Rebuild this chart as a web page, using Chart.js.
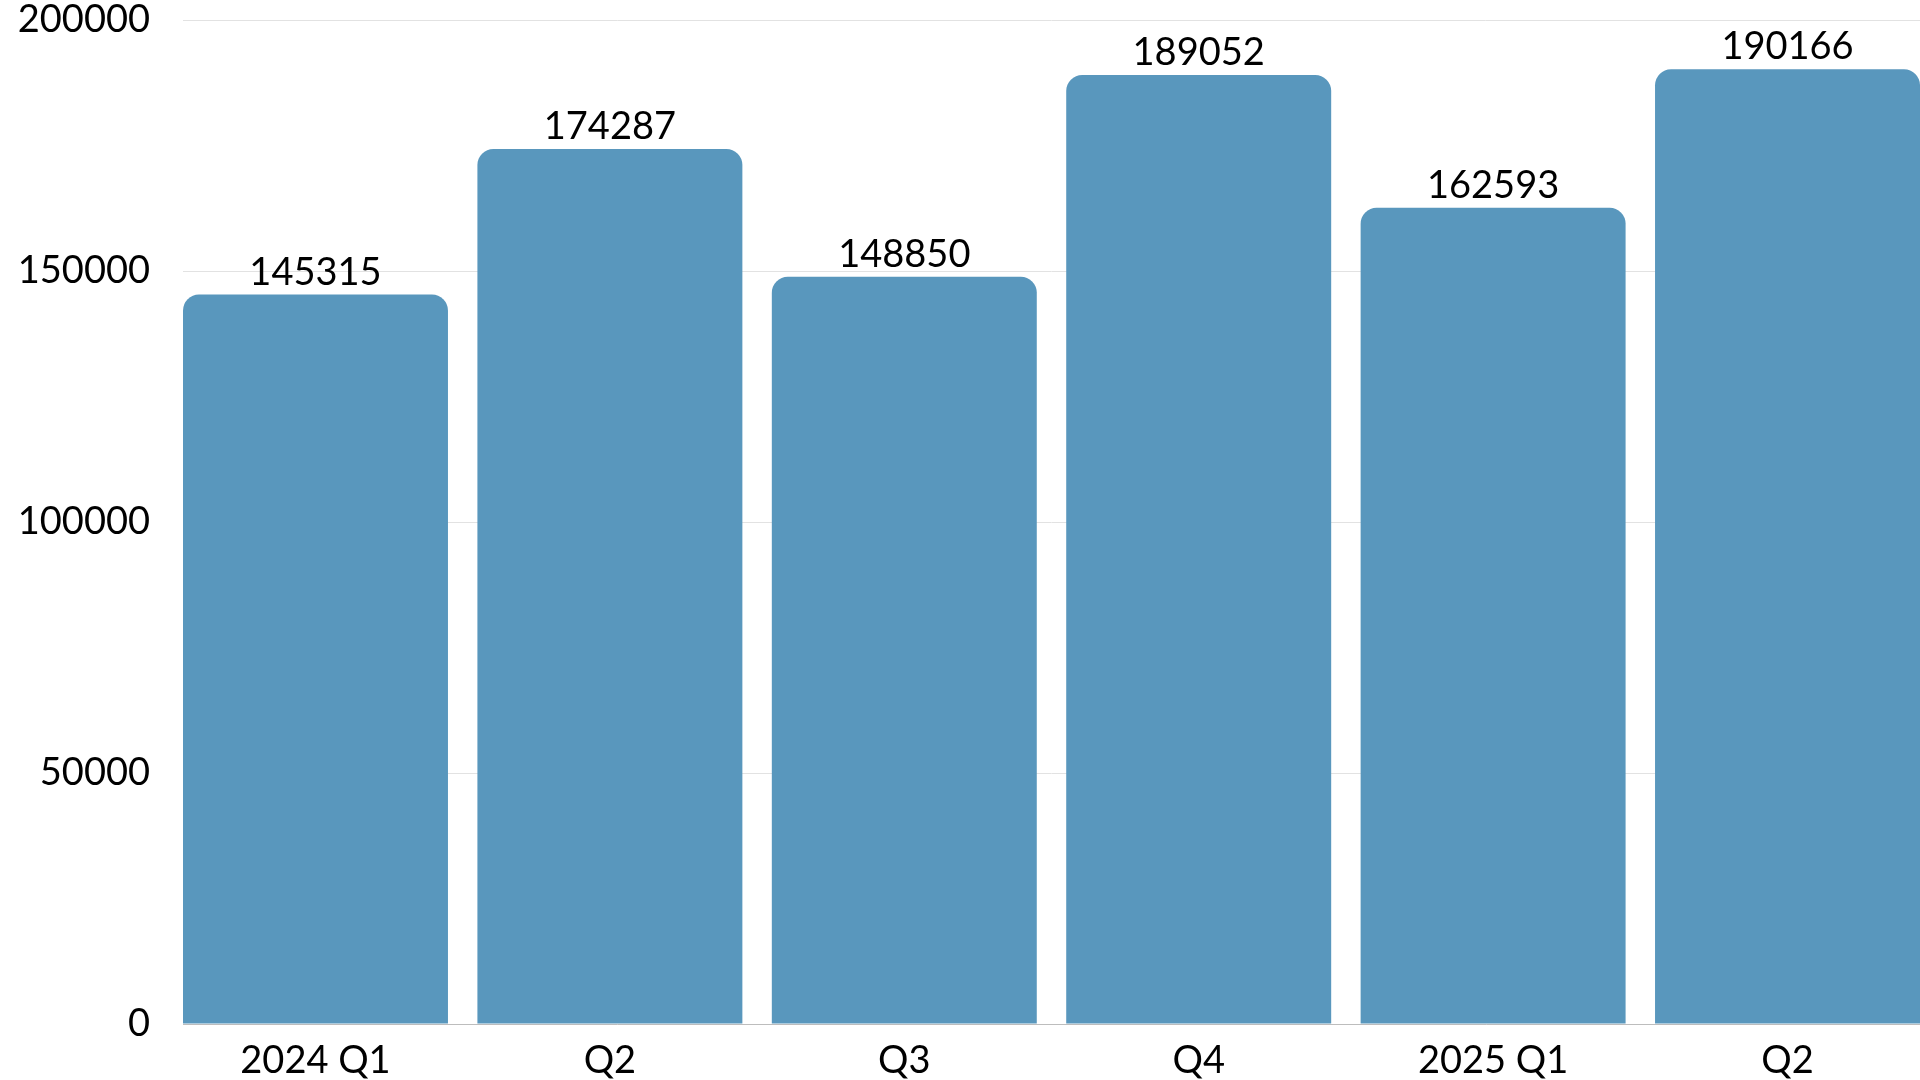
<!DOCTYPE html>
<html>
<head>
<meta charset="utf-8">
<script src="https://cdn.jsdelivr.net/npm/chart.js@4/dist/chart.umd.min.js"></script>
<style>
  html, body { margin: 0; padding: 0; background: #fff; overflow: hidden; }
  #wrap { width: 1920px; height: 1080px; }
</style>
</head>
<body>
<div id="wrap"><canvas id="chart" width="1920" height="1080"></canvas></div>
<script>
// quarterly values
const categories = ["2024 Q1", "Q2", "Q3", "Q4", "2025 Q1", "Q2"];
const values = [145315, 174287, 148850, 189052, 162593, 190166];
const yMin = 0;
const yMax = 200000;
const yStep = 50000;

const FONT = "Futura, 'Century Gothic', Lato, sans-serif";
const BAR_COLOR = "#5997bd";

// draws the value above each bar
const valueLabels = {
  id: "valueLabels",
  afterDatasetsDraw(chart) {
    const ctx = chart.ctx;
    const meta = chart.getDatasetMeta(0);
    ctx.save();
    ctx.font = "38px " + FONT;
    ctx.fillStyle = "#000";
    ctx.textAlign = "center";
    ctx.textBaseline = "alphabetic";
    meta.data.forEach((bar, i) => {
      ctx.fillText(String(values[i]), bar.x, bar.y - 10);
    });
    ctx.restore();
  }
};

new Chart(document.getElementById("chart"), {
  type: "bar",
  data: {
    datasets: [{
      data: values.map((v, i) => ({ x: i, y: v })),
      backgroundColor: BAR_COLOR,
      borderWidth: 0,
      borderRadius: 16,
      borderSkipped: "start",
      categoryPercentage: 1.0,
      barPercentage: 0.9
    }]
  },
  options: {
    responsive: false,
    devicePixelRatio: 1,
    animation: false,
    layout: { padding: { top: 20, right: 0, bottom: 0, left: 0 } },
    plugins: {
      legend: { display: false },
      tooltip: { enabled: false }
    },
    scales: {
      x: {
        type: "linear",
        min: -0.45,
        max: categories.length - 0.55,
        offset: false,
        grid: { display: false, drawTicks: false },
        border: { display: true, color: "#bdbdbd", width: 1 },
        afterFit(axis) {
          axis.height = 56;
          axis.paddingLeft = 0;
          axis.paddingRight = 0;
        },
        ticks: {
          stepSize: 1,
          includeBounds: false,
          autoSkip: false,
          maxRotation: 0,
          padding: 18,
          color: "#000",
          font: { family: FONT, size: 38, lineHeight: 1 },
          callback: (v) => categories[v] ?? ""
        }
      },
      y: {
        min: yMin,
        max: yMax,
        grid: { color: "#e2e2e2", lineWidth: 1, drawTicks: false },
        border: { display: false },
        afterFit(axis) {
          axis.width = 183;
          axis.paddingTop = 0;
          axis.paddingBottom = 0;
        },
        ticks: {
          stepSize: yStep,
          padding: 33,
          color: "#000",
          font: { family: FONT, size: 38, lineHeight: 1 },
          callback: (v) => String(v)
        }
      }
    }
  },
  plugins: [valueLabels]
});
</script>
</body>
</html>
